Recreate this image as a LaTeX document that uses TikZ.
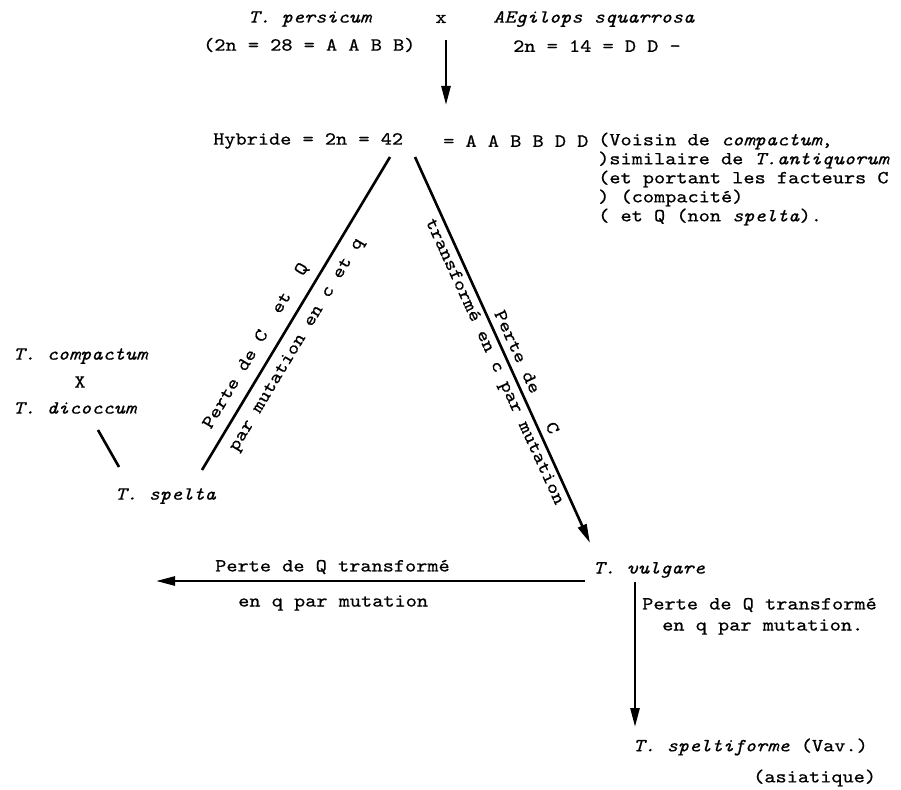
\documentclass[tikz,border=0pt]{standalone}
\usepackage{fontspec}
\setmonofont{lmmono10-regular.otf}[ItalicFont=lmmono10-italic.otf, FakeStretch=1.15, FakeBold=0.6]
\usetikzlibrary{arrows.meta}
\begin{document}
\begin{tikzpicture}[x=1pt,y=-1pt,
  txt/.style={inner sep=0pt, font=\ttfamily\fontsize{18.5}{20}\selectfont, anchor=west},
  ctxt/.style={inner sep=0pt, font=\ttfamily\fontsize{18.5}{20}\selectfont},
  ln/.style={line width=2.6pt},
  arr/.style={line width=2.6pt,-{Triangle[length=19pt,width=9pt]}}]
\useasboundingbox (0,0) rectangle (901,789);
% top
\node[txt] (persicum) at (248,19) {\itshape T. persicum};
\node[ctxt] (cross) at (441,19) {x};
\node[txt] (aegilops) at (493,19) {\itshape AEgilops squarrosa};
\node[txt] (pers2n) at (203,45) {(2n = 28 = A A B B)};
\node[txt] (aeg2n) at (513,46) {2n = 14 = D D -};
\coordinate (a1s) at (446,40);
\coordinate (a1e) at (446,105);
\draw[arr] (a1s) -- (a1e);
% hybrid
\node[txt] (hyb) at (213,141) {Hybride = 2n = 42};
\node[txt] (aabb) at (443,141) {= A A B B D D};
\node[txt] (r1) at (598,141) {(Voisin de \textit{compactum},};
\node[txt] (r2) at (598,160) {)similaire de \textit{T.antiquorum}};
\node[txt] (r3) at (598,179) {(et portant les facteurs C};
\node[txt] (r4) at (598,198) {) (compacité)};
\node[txt] (r5) at (598,217) {( et Q (non \textit{spelta}).};
% diagonals
\coordinate (lt) at (390,157);
\coordinate (lb) at (202,470);
\draw[ln] (lt) -- (lb);
\coordinate (rt) at (415,157);
\coordinate (rb) at (590,543);
\draw[arr] (rt) -- (rb);
\node[ctxt, rotate=59] (lab1) at (256,346) {Perte de C~ et~ Q};
\node[ctxt, rotate=59] (lab2) at (297,345) {par mutation en c et q};
\node[ctxt, rotate=-65.4] (lab3) at (527,372) {Perte de\ \ \ C};
\node[ctxt, rotate=-65.4] (lab4) at (494,362) {transformé en c par mutation};
% left group
\node[txt] (compactum) at (13,356) {\itshape T. compactum};
\node[ctxt] (X) at (80,382) {X};
\node[txt] (dicoccum) at (13,408) {\itshape T. dicoccum};
\coordinate (st) at (98,430);
\coordinate (sb) at (119,467);
\draw[ln] (st) -- (sb);
\node[txt] (spelta) at (115,496) {\itshape T. spelta};
% bottom horizontal
\coordinate (hs) at (585,581);
\coordinate (he) at (156,581);
\draw[arr] (hs) -- (he);
\node[txt] (h1) at (215,567) {Perte de Q transformé};
\node[txt] (h2) at (238,603) {en q par mutation};
\node[txt] (vulgare) at (593,570) {\itshape T. vulgare};
% vertical
\coordinate (vs) at (635,582);
\coordinate (ve) at (635,727);
\draw[arr] (vs) -- (ve);
\node[txt] (v1) at (642,605) {Perte de Q transformé};
\node[txt] (v2) at (662,627) {en q par mutation.};
\node[txt] (spf) at (633,747) {\textit{T. speltiforme} (Vav.)};
\node[txt] (asia) at (753,778) {(asiatique)};
\end{tikzpicture}
\end{document}
